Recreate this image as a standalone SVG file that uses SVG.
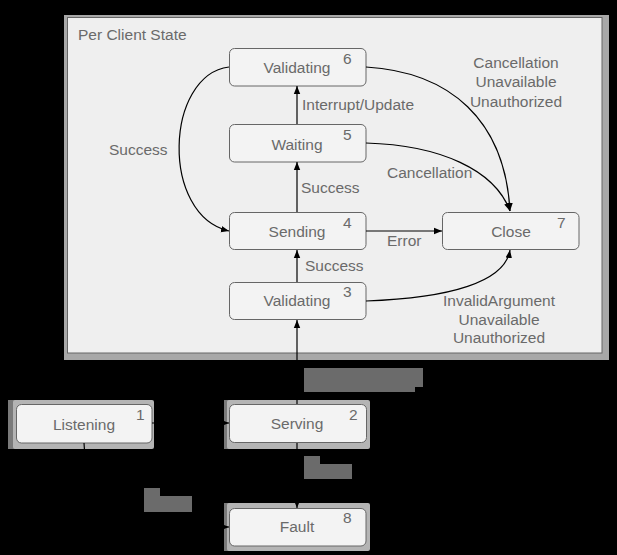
<svg xmlns="http://www.w3.org/2000/svg" width="617" height="555" viewBox="0 0 617 555">
<defs>
<style>
text{font-family:"Liberation Sans",Arial,sans-serif;font-size:15.5px;fill:#6a6a6a}
.lbl{text-anchor:middle}
.node{fill:#f3f3f3;stroke:#666;stroke-width:1}
.halo{fill:#b4b4b4}
.halo2{fill:#7a7a7a}
.edge{fill:none;stroke:#000;stroke-width:1.2}
.tag{fill:#6b6b6b}
</style>
<marker id="ah" viewBox="0 0 10 10" refX="10" refY="5" markerWidth="8" markerHeight="8" markerUnits="userSpaceOnUse" orient="auto">
<path d="M0,1 L10,5 L0,9 z" fill="#000"/>
</marker>
</defs>
<rect width="617" height="555" fill="#000"/>
<g id="container">
<rect x="64" y="15" width="545" height="345" fill="#a8a8a8"/>
<rect x="67.5" y="17.5" width="534.5" height="335.5" fill="#efefef" stroke="#666" stroke-width="1"/>
<text x="78" y="40">Per Client State</text>
</g>
<g id="n6"><rect class="node" x="229.5" y="48.5" width="136.5" height="37.5" rx="5"/><text class="lbl" x="297" y="73">Validating</text><text x="343" y="64">6</text></g>
<g id="n5"><rect class="node" x="229.5" y="124.5" width="136.5" height="37.5" rx="5"/><text class="lbl" x="297" y="150">Waiting</text><text x="343" y="140">5</text></g>
<g id="n4"><rect class="node" x="229.5" y="212.5" width="136.5" height="37" rx="5"/><text class="lbl" x="297" y="237">Sending</text><text x="343" y="228">4</text></g>
<g id="n3"><rect class="node" x="229.5" y="282.5" width="136.5" height="37" rx="5"/><text class="lbl" x="297" y="306">Validating</text><text x="343" y="297">3</text></g>
<g id="n7"><rect class="node" x="442.5" y="212.5" width="136.5" height="37" rx="5"/><text class="lbl" x="511" y="237">Close</text><text x="557" y="228">7</text></g>
<g id="n1"><rect class="halo2" x="8" y="400" width="10" height="49"/><rect class="halo" x="13" y="400" width="141" height="49" rx="2"/><rect class="node" x="16.5" y="404.5" width="135.5" height="38.5" rx="5"/><text class="lbl" x="84" y="430">Listening</text><text x="136" y="420">1</text></g>
<g id="n2"><rect class="halo2" x="224" y="400" width="8" height="49"/><rect class="halo" x="227" y="400" width="143" height="49" rx="2"/><rect class="node" x="229.5" y="404.5" width="137" height="38" rx="5"/><text class="lbl" x="297" y="429">Serving</text><text x="349" y="420">2</text></g>
<g id="n8"><rect class="halo2" x="224" y="503" width="8" height="48"/><rect class="halo" x="227" y="503" width="143" height="48" rx="2"/><rect class="node" x="229.5" y="508.5" width="136.5" height="37.5" rx="5"/><text class="lbl" x="297" y="532">Fault</text><text x="343" y="523">8</text></g>
<g id="connectors">
<path class="edge" marker-end="url(#ah)" d="M297,404 L297,320"/>
<path class="edge" marker-end="url(#ah)" d="M297,282 L297,250"/>
<path class="edge" marker-end="url(#ah)" d="M297,212 L297,162"/>
<path class="edge" marker-end="url(#ah)" d="M297,124 L297,86"/>
<path class="edge" marker-end="url(#ah)" d="M229,67 C165,75 160,215 229,231"/>
<path class="edge" marker-end="url(#ah)" d="M366,67 C450,72 505,120 510,211"/>
<path class="edge" marker-end="url(#ah)" d="M366,143 C440,145 495,170 510,211"/>
<path class="edge" marker-end="url(#ah)" d="M366,231 L442,231"/>
<path class="edge" marker-end="url(#ah)" d="M366,301 C450,298 505,282 510,250"/>
<path class="edge" marker-end="url(#ah)" d="M152,423 L229,423"/>
<path class="edge" marker-end="url(#ah)" d="M297,443 L297,508"/>
<path class="edge" marker-end="url(#ah)" d="M84,443 C84,500 150,527 229,527"/>
<text x="302" y="110">Interrupt/Update</text>
<text x="109" y="155">Success</text>
<text x="301" y="193">Success</text>
<text x="305" y="271">Success</text>
<text x="387" y="246">Error</text>
<text x="387" y="178">Cancellation</text>
<text class="lbl" x="516" y="68">Cancellation</text>
<text class="lbl" x="516" y="87">Unavailable</text>
<text class="lbl" x="516" y="107">Unauthorized</text>
<text class="lbl" x="499" y="306">InvalidArgument</text>
<text class="lbl" x="499" y="325">Unavailable</text>
<text class="lbl" x="499" y="343">Unauthorized</text>
<polygon class="tag" points="304,368 423,368 423,387 415,387 415,392 304,392"/>
<polygon class="tag" points="304,456 320,456 320,464 352,464 352,479 304,479"/>
<polygon class="tag" points="144,488 160,488 160,496 192,496 192,512 144,512"/>
</g>
</svg>
